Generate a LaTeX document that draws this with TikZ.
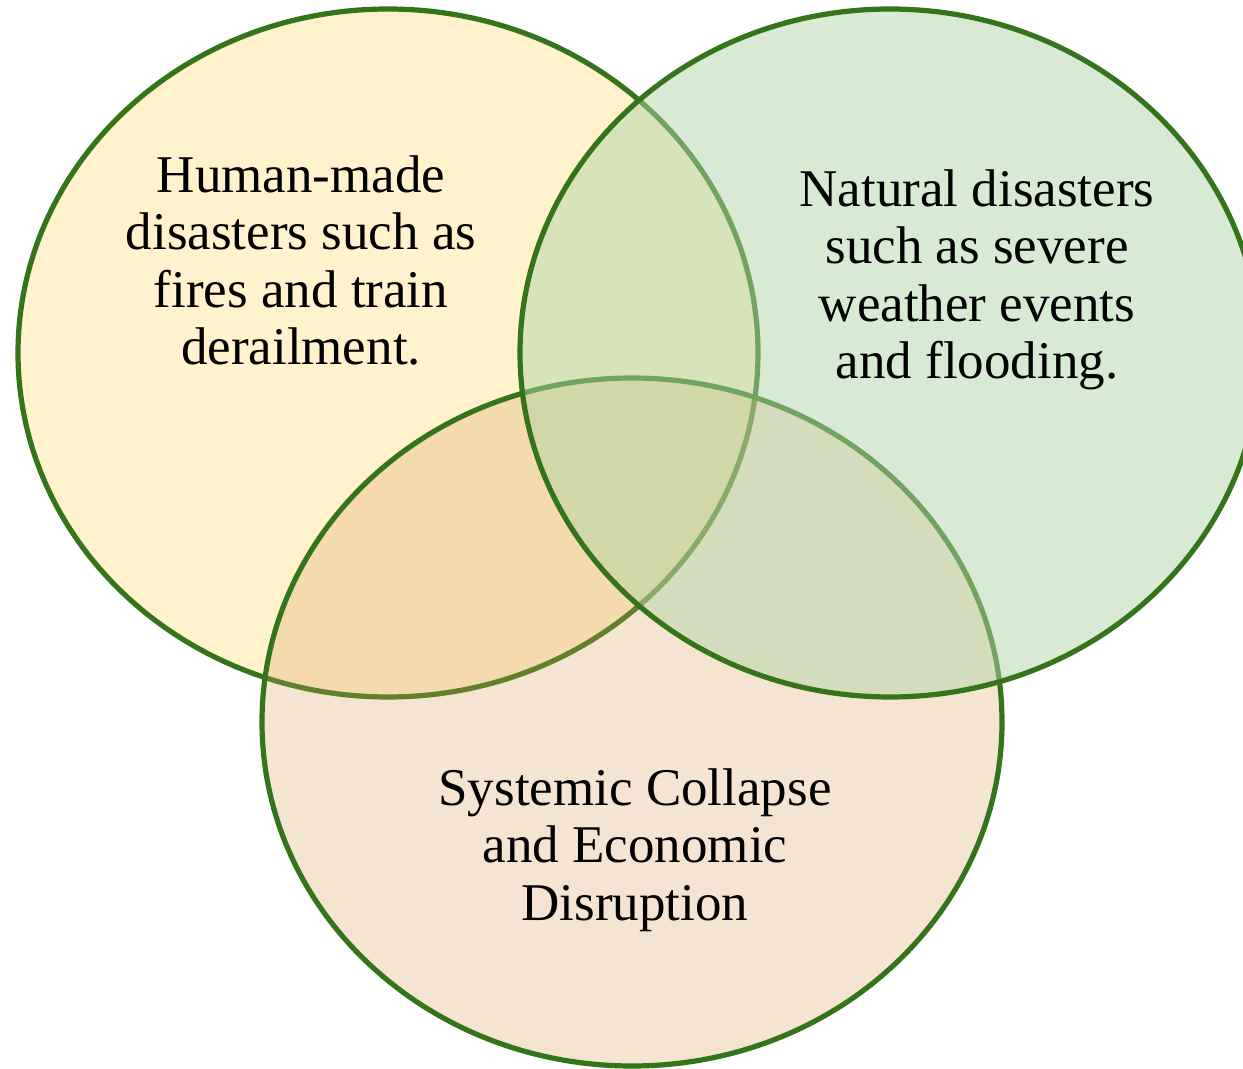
\documentclass[tikz,border=0pt]{standalone}
\usepackage{fontspec}
\setmainfont{Liberation Serif}
\usetikzlibrary{shapes.geometric}

\definecolor{setline}{RGB}{52,116,26}
\definecolor{humanfill}{RGB}{255,242,204}
\definecolor{systemfill}{RGB}{219,159,91}
\definecolor{naturefill}{RGB}{177,213,169}

\begin{document}
\begin{tikzpicture}[x=0.5pt, y=-0.5pt,
  set/.style={ellipse, draw=setline, line width=2.6pt, inner sep=0pt,
    minimum width=370pt, minimum height=344pt},
  lab/.style={font=\fontsize{26.5}{28.75}\selectfont, align=center,
    anchor=base, inner sep=0pt}]
\useasboundingbox (0,0) rectangle (1243,1069);
% the three sets, later ones lie over the earlier ones
\node[set, fill=humanfill] (human) at (388,353) {};
\node[set, fill=systemfill, fill opacity=0.28] (system) at (632,722) {};
\node[set, fill=naturefill, fill opacity=0.5] (nature) at (890,353) {};
% set labels (base is the last line)
\node[lab] (humantxt) at (301,365)
  {Human-made\\disasters such as\\fires and train\\derailment.};
\node[lab] (naturetxt) at (977,379)
  {Natural disasters\\such as severe\\weather events\\and flooding.};
\node[lab] (systemtxt) at (635,920)
  {Systemic Collapse\\and Economic\\Disruption};
\end{tikzpicture}
\end{document}
